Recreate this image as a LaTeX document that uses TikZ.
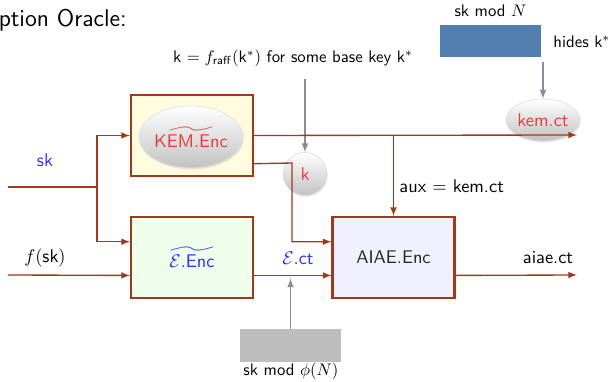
\documentclass[tikz,border=0pt,11pt]{standalone}
\usepackage{amsmath,amssymb}
\usepackage{xcolor}
\usepackage{tikz}
\usetikzlibrary{arrows}
\usetikzlibrary{calc}
\usetikzlibrary{positioning}
\usetikzlibrary{shapes.geometric}
\usetikzlibrary{shadows}
\renewcommand{\familydefault}{\sfdefault}

\definecolor{wirered}{RGB}{160,56,26}
\definecolor{kembg}{RGB}{255,251,222}
\definecolor{encbg}{RGB}{238,253,236}
\definecolor{aiaebg}{RGB}{240,240,255}
\definecolor{bluetxt}{RGB}{45,45,255}
\definecolor{redtxt}{RGB}{228,60,60}
\definecolor{steel}{RGB}{82,126,176}
\definecolor{boxgray}{RGB}{190,190,190}
\definecolor{probegray}{RGB}{140,140,150}

\newdimen\pxu \pxu=0.02095cm

\tikzset{
  wire/.style={draw=wirered, line width=0.8pt},
  block/.style={draw=wirered, line width=1.2pt, minimum width=122\pxu, minimum height=81\pxu, inner sep=0pt},
  bubble/.style={ellipse, inner sep=0pt, top color=white, bottom color=black!24, draw=black!12,
    drop shadow={opacity=0.2, shadow xshift=0.4pt, shadow yshift=-0.8pt}},
  probe/.style={draw=probegray, line width=0.8pt, -latex},
  patch/.style={minimum width=101\pxu, minimum height=32\pxu, inner sep=0pt}
}

\begin{document}
\begin{tikzpicture}[x=\pxu,y=-\pxu]
    \clip (0,0) rectangle (611,382);
    \node[anchor=base west, inner sep=0pt, font=\Large] (title) at (-19,27) {Option Oracle:};

    \node[block, fill=kembg] (kem) at (192,135.5) {};
    \node[bubble, minimum width=93\pxu, minimum height=62\pxu, text=redtxt] (kemoval) at (191,137) {$\widetilde{\mathsf{KEM.Enc}}$};
    \node[block, fill=encbg, text=bluetxt] (enc) at (192,257.5) {$\widetilde{\mathcal{E}.\mathsf{Enc}}$};
    \node[block, fill=aiaebg, text=black!85] (aiae) at (393.5,257.5) {AIAE.Enc};
    \node[bubble, minimum width=44\pxu, minimum height=43\pxu, text=redtxt] (kball) at (305,174) {k};
    \node[bubble, minimum width=74\pxu, minimum height=42\pxu, text=redtxt] (kemct) at (543,120) {kem.ct};

    \node[patch, fill=steel] (modN) at (490.5,41) {};
    \node[font=\small, above=1pt of modN] (modNlbl) {sk mod $N$};
    \node[font=\small, anchor=west] (hides) at (547,42) {hides k$^*$};
    \node[patch, fill=boxgray, minimum height=33\pxu] (modphi) at (290.5,345.5) {};
    \node[font=\small, anchor=base, inner sep=0pt] (modphilbl) at (291,376) {sk mod $\phi(N)$};
    \node[font=\small] (raff) at (293,58) {k $= f_{\mathsf{raff}}(\mathsf{k}^*)$ for some base key k$^*$};

    \node[text=bluetxt] (sklbl) at (45,160) {sk};
    \node (fsklbl) at (45,258) {$f(\mathsf{sk})$};
    \node[text=bluetxt] (ectlbl) at (298,258) {$\mathcal{E}.\mathsf{ct}$};
    \node[anchor=west] (auxlbl) at (393,186) {aux $=$ kem.ct};
    \node (aiaectlbl) at (548,258) {aiae.ct};

    \coordinate (skin) at (8,187);
    \coordinate (split) at (97,187);
    \coordinate (fskin) at (8,275);
    \coordinate (kemout) at (577,135);
    \coordinate (aiaeout) at (577,275);
    \coordinate (kturn) at (292,163);
    \coordinate (kemlow) at ($(kem.north east)!0.84!(kem.south east)$);
    \coordinate (encup) at ($(enc.north west)!0.31!(enc.south west)$);
    \coordinate (encdown) at ($(enc.north west)!0.716!(enc.south west)$);
    \coordinate (encright) at ($(enc.north east)!0.716!(enc.south east)$);
    \coordinate (aiaeup) at ($(aiae.north west)!0.31!(aiae.south west)$);
    \coordinate (aiaedown) at ($(aiae.north west)!0.716!(aiae.south west)$);
    \coordinate (aiaeright) at ($(aiae.north east)!0.716!(aiae.south east)$);

    \draw[probe] (raff.south -| kball) ++(0,6) -- (kball.north);
    \draw[probe, shorten <=5\pxu] (modN.south -| kemct) -- (kemct.north);
    \draw[probe, shorten >=3\pxu] (modphi.north) -- (modphi.north |- aiaedown);

    \draw[wire] (skin) -- (split);
    \draw[wire,-latex] (split) |- (kem.west);
    \draw[wire,-latex] (split) |- (encup);
    \draw[wire,-latex] (fskin) -- (encdown);
    \draw[wire,-latex] (kem.east) -- (kemout);
    \draw[wire,-latex] (kem.east -| aiae.north) -- (aiae.north);
    \draw[wire,-latex] (kemlow) -- (kturn) |- (aiaeup);
    \draw[wire,-latex] (encright) -- (aiaedown);
    \draw[wire,-latex] (aiaeright) -- (aiaeout);
\end{tikzpicture}
\end{document}
